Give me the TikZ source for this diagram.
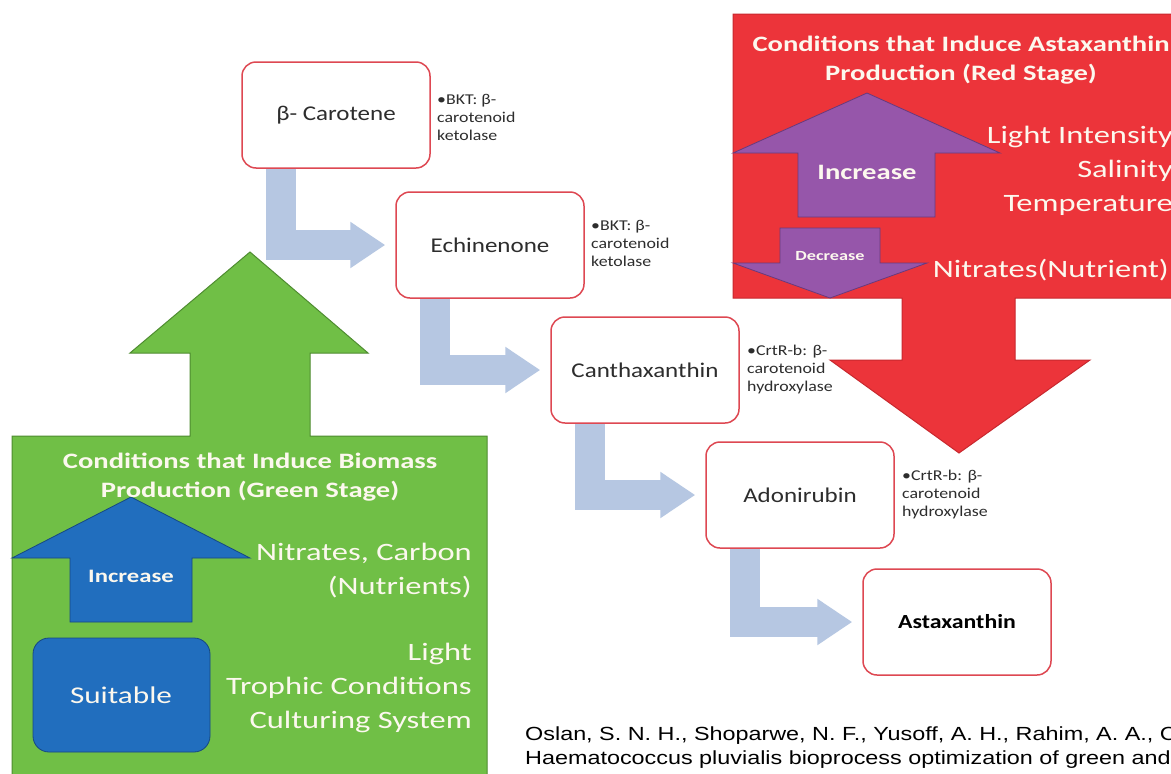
\documentclass[tikz,border=0pt]{standalone}
\usepackage{fontspec}
\setmainfont[FakeStretch=1.19]{Carlito}
\newfontfamily\widefont[FakeStretch=1.3]{Carlito}
\newfontfamily\citefont[FakeStretch=1.23]{Liberation Sans}
\usetikzlibrary{arrows.meta}
\definecolor{greenstage}{RGB}{112,191,70}
\definecolor{greenedge}{RGB}{78,140,48}
\definecolor{redstage}{RGB}{236,52,58}
\definecolor{rededge}{RGB}{200,40,46}
\definecolor{purplearr}{RGB}{150,86,170}
\definecolor{purpleedge}{RGB}{105,58,125}
\definecolor{bluearr}{RGB}{33,110,190}
\definecolor{blueedge}{RGB}{22,72,130}
\definecolor{flowblue}{RGB}{182,199,226}
\definecolor{boxred}{RGB}{222,72,82}
\definecolor{boxtext}{RGB}{45,45,45}
\definecolor{softwhite}{RGB}{252,248,238}
\newcommand{\fsz}[2]{\fontsize{#1}{#2}\selectfont}

\begin{document}
\begin{tikzpicture}[x=1pt,y=-1pt,
  pathbox/.style={draw=boxred, line width=1.5pt, rounded corners=14pt, fill=white,
    minimum width=188pt, minimum height=106pt, text=boxtext, font=\fsz{21}{25}},
  enzyme/.style={anchor=west, align=left, text=boxtext, font=\fsz{15}{18}},
  flow/.style={draw=flowblue, line width=30pt, line join=miter,
    -{Triangle[width=44pt,length=35pt]}, shorten >=10pt},
  titletext/.style={align=center, text=softwhite, font=\widefont\bfseries\fsz{22}{29}},
  listtext/.style={anchor=east, align=right, text=softwhite, font=\widefont\fsz{25}{34}}]
\tikzstyle{every node}+=[inner sep=0pt]
\useasboundingbox (0,0) rectangle (1171,774);
\fill[white] (0,0) rectangle (1171,774);

\filldraw[fill=greenstage, draw=greenedge, line width=1pt] (12,780) -- (12,436) -- (190,436) -- (190,353) -- (130,353)
  -- (250,252) -- (368,353) -- (310,353) -- (310,436) -- (487,436) -- (487,780);
\filldraw[fill=redstage, draw=rededge, line width=1pt] (733,14) -- (1180,14) -- (1180,298) -- (1015,298) -- (1015,360)
  -- (1090,360) -- (959,453) -- (830,360) -- (902,360) -- (902,298) -- (733,298) -- cycle;
\filldraw[fill=purplearr, draw=purpleedge, line width=0.8pt] (798,217) -- (798,153) -- (733,153) -- (867,93)
  -- (1000,153) -- (935,153) -- (935,217) -- cycle;
\filldraw[fill=purplearr, draw=purpleedge, line width=0.8pt] (780,228) -- (880,228) -- (880,263) -- (927,263)
  -- (830,298) -- (733,263) -- (780,263) -- cycle;
\filldraw[fill=bluearr, draw=blueedge, line width=0.8pt] (70,622) -- (70,558) -- (12,558) -- (131,497)
  -- (250,558) -- (192,558) -- (192,622) -- cycle;
\filldraw[fill=bluearr, draw=blueedge, line width=0.8pt, rounded corners=16pt] (33,638) rectangle (210,752);

\node[titletext] (redtitle) at (961,60) {Conditions that Induce Astaxanthin\\Production (Red Stage)};
\node[text=softwhite, font=\widefont\bfseries\fsz{22}{26}] (redinc) at (867,172) {Increase};
\node[text=softwhite, font=\widefont\bfseries\fsz{14}{16}] (reddec) at (830,256) {Decrease};
\node[listtext] (redup) at (1173,171) {Light Intensity\\Salinity\\Temperature};
\node[listtext] (reddown) at (1169,270) {Nitrates(Nutrient)};

\node[titletext] (greentitle) at (250,477) {Conditions that Induce Biomass\\Production (Green Stage)};
\node[text=softwhite, font=\widefont\bfseries\fsz{19}{22}] (greeninc) at (131,576) {Increase};
\node[text=softwhite, font=\widefont\fsz{24}{28}] (suitable) at (121,695) {Suitable};
\node[listtext] (nutrients) at (472,571) {Nitrates, Carbon\\(Nutrients)};
\node[listtext] (culture) at (472,688) {Light\\Trophic Conditions\\Culturing System};

\node[pathbox] (carotene) at (336,115) {β- Carotene};
\node[pathbox] (echinenone) at (490,245) {Echinenone};
\node[pathbox] (canthaxanthin) at (645,370) {Canthaxanthin};
\node[pathbox] (adonirubin) at (800,495) {Adonirubin};
\node[pathbox, font=\bfseries\fsz{20}{24}, text=black] (astaxanthin) at (957,622) {Astaxanthin};

\draw[flow] ([xshift=40pt]carotene.south west) |- (echinenone.west);
\draw[flow] ([xshift=40pt]echinenone.south west) |- (canthaxanthin.west);
\draw[flow] ([xshift=40pt]canthaxanthin.south west) |- (adonirubin.west);
\draw[flow] ([xshift=40pt]adonirubin.south west) |- (astaxanthin.west);

\node[enzyme] (bkt1) at (437,117) {•BKT: β-\\carotenoid\\ketolase};
\node[enzyme] (bkt2) at (591,243) {•BKT: β-\\carotenoid\\ketolase};
\node[enzyme] (crtr1) at (747,369) {•CrtR-b: β-\\carotenoid\\hydroxylase};
\node[enzyme] (crtr2) at (902,494) {•CrtR-b: β-\\carotenoid\\hydroxylase};

\node[anchor=west, align=left, font=\citefont\fsz{19}{24}] (citation) at (525,748)
  {Oslan, S. N. H., Shoparwe, N. F., Yusoff, A. H., Rahim, A. A., C\\Haematococcus pluvialis bioprocess optimization of green and};
\end{tikzpicture}
\end{document}
